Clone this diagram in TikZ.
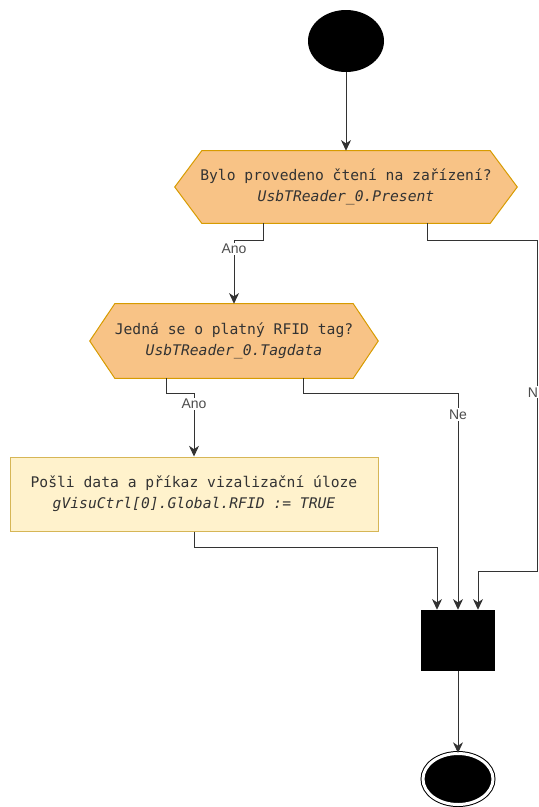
\documentclass[tikz,border=0pt]{standalone}
\usepackage{fontspec}
\setmonofont{DejaVu Sans Mono}[ItalicFont={DejaVu Sans Mono Oblique}]
\setsansfont{Liberation Sans}
\usepackage{tikz}
\usetikzlibrary{shapes.geometric,positioning,arrows.meta,backgrounds}
\definecolor{hexfill}{HTML}{F8C386}
\definecolor{hexline}{HTML}{D79B00}
\definecolor{actfill}{HTML}{FFF2CC}
\definecolor{actline}{HTML}{D6B656}
\tikzset{
	flow/.style={draw=black!80,line width=0.75pt,-{Stealth[length=8pt,width=7.5pt,inset=2.5pt]}},
	lbl/.style={fill=white,text=black!70,font=\sffamily\fontsize{10.5}{12}\selectfont,inner sep=1pt},
	txt/.style={align=center,text=black!80,font=\ttfamily\fontsize{11}{15.75}\selectfont,inner sep=0pt},
	hexa/.style={fill=hexfill,draw=hexline,line width=0.75pt}
}

\begin{document}
\begin{tikzpicture}[x=0.75pt,y=-0.75pt]
\useasboundingbox (0,0) rectangle (539,807);

%Uzly
\node[ellipse,fill=black,minimum width=57pt,minimum height=46.5pt] (start) at (346,41) {};
\node[txt,minimum width=256.5pt,minimum height=54pt] (q1) at (346,187) {Bylo provedeno čtení na zařízení?\\\textit{UsbTReader\_0.Present}};
\node[txt,minimum width=216pt,minimum height=55.5pt] (q2) at (234,341) {Jedná se o platný RFID tag?\\\textit{UsbTReader\_0.Tagdata}};
\node[txt,fill=actfill,draw=actline,line width=0.75pt,minimum width=276pt,minimum height=55.5pt] (act) at (194,494) {Pošli data a příkaz vizalizační úloze\\\textit{gVisuCtrl[0].Global.RFID := TRUE}};
\node[fill=black,minimum width=55.5pt,minimum height=45.75pt] (bar) at (458,640.5) {};
\node[ellipse,fill=black,draw=black,line width=0.75pt,double=white,double distance=2.25pt,minimum width=52.5pt,minimum height=38.25pt] (end) at (458,779) {};

%Sestiuhelniky
\begin{scope}[on background layer]
\draw[hexa] (q1.west) -- ([shift={(27,0)}]q1.north west) -- ([shift={(-27,0)}]q1.north east) -- (q1.east) -- ([shift={(-27,0)}]q1.south east) -- ([shift={(27,0)}]q1.south west) -- cycle;
\draw[hexa] (q2.west) -- ([shift={(25,0)}]q2.north west) -- ([shift={(-25,0)}]q2.north east) -- (q2.east) -- ([shift={(-25,0)}]q2.south east) -- ([shift={(25,0)}]q2.south west) -- cycle;
\end{scope}

%Lomy spojnic
\coordinate (q1ano) at (263,240);
\coordinate (q1ne) at (427,240);
\coordinate (q1ner) at (537,571);
\coordinate (q2ano) at (166,393);
\coordinate (q2ne) at (303,393);
\coordinate (actout) at (194,547);

%Spojnice
\draw[flow] (start) -- (q1);
\draw[flow] (q1.south -| q1ano) -- (q1ano) -| (q2.north) node[lbl,pos=0.57] {Ano};
\draw[flow] (q1.south -| q1ne) -- (q1ne) -| (q1ner) node[lbl,pos=0.73,xshift=-3pt] {N} -| ([shift={(20,0)}]bar.north);
\draw[flow] (q2.south -| q2ano) -- (q2ano) -| (act.north) node[lbl,pos=0.586] {Ano};
\draw[flow] (q2.south -| q2ne) -- (q2ne) -| (bar.north) node[lbl,pos=0.55] {Ne};
\draw[flow] (act.south) -- (actout) -| ([shift={(-21,0)}]bar.north);
\draw[flow] (bar) -- (end);

\end{tikzpicture}
\end{document}
